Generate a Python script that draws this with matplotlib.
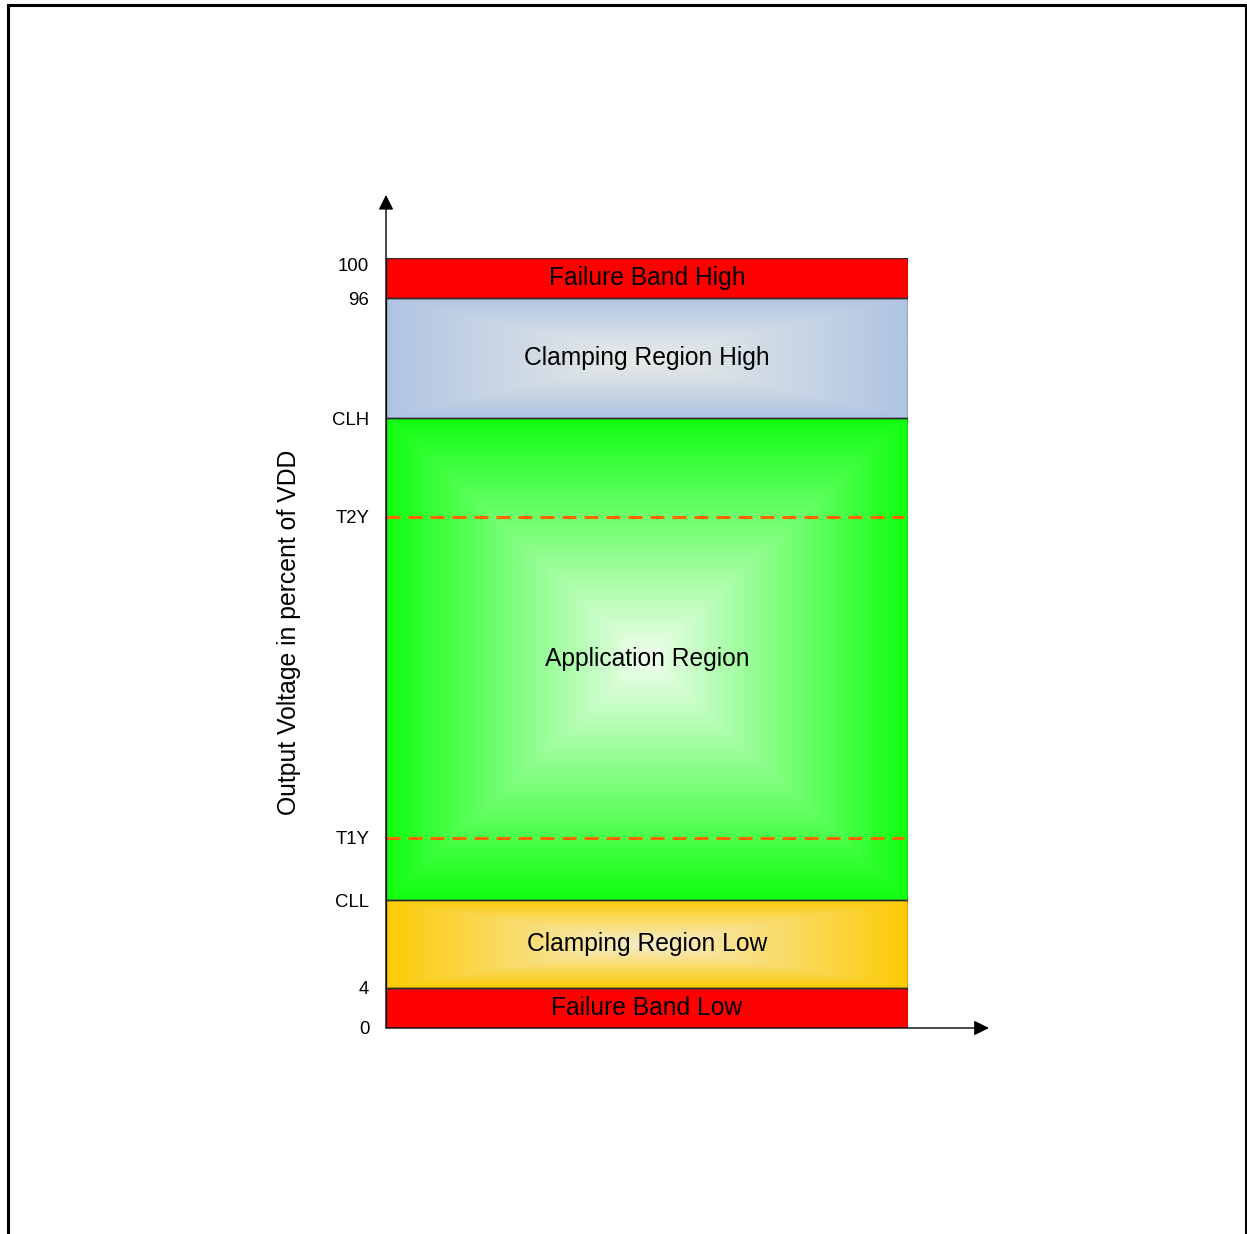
import matplotlib.pyplot as plt
import numpy as np
from matplotlib.lines import Line2D
from matplotlib.colors import to_rgb

# band boundaries on a schematic percent axis (bands are not to scale)
levels = [0, 5.2, 16.6, 24.7, 66.4, 79.2, 94.8, 100]
level_labels = ["0", "4", "CLL", "T1Y", "T2Y", "CLH", "96", "100"]

# bands, bottom to top
band_names = ["Failure Band Low", "Clamping Region Low", "Application Region",
              "Clamping Region High", "Failure Band High"]
band_lo = [0, 5.2, 16.6, 79.2, 94.8]
band_hi = [5.2, 16.6, 79.2, 94.8, 100]
band_edge = ["#ff0000", "#fdca00", "#10ff10", "#aec3e2", "#ff0000"]
band_centre = ["#ff0000", "#f6ecca", "#f2fdf0", "#e9ece8", "#ff0000"]
threshold_levels = [24.7, 66.4]

plt.rcParams['font.family'] = ['Liberation Sans Narrow', 'Liberation Sans', 'DejaVu Sans']

fig = plt.figure(figsize=(12.47, 12.34), dpi=100)
W, H = 1247, 1234
ax = fig.add_axes([386 / W, 1 - 1028 / H, (908 - 386) / W, (1028 - 258) / H])
ax.set_xlim(0, 1)
ax.set_ylim(0, 100)


def rect_gradient(edge, centre, nx=300, ny=200, power=1.0):
    """rectangular (box) gradient: light centre, edge colour at the border"""
    x = np.linspace(-1, 1, nx)
    y = np.linspace(-1, 1, ny)
    xx, yy = np.meshgrid(x, y)
    t = np.maximum(np.abs(xx), np.abs(yy))
    w = (1 - t) ** power
    e = np.array(to_rgb(edge))
    c = np.array(to_rgb(centre))
    return e + (c - e) * w[..., None]


for lo, hi, name, ec, cc in zip(band_lo, band_hi, band_names, band_edge, band_centre):
    if name.startswith("Application"):
        img = rect_gradient(ec, cc, 400, 400, power=1.0)
    else:
        img = rect_gradient(ec, cc, 400, 100, power=0.9)
    ax.imshow(img, extent=[0, 1, lo, hi], aspect='auto', interpolation='bilinear', zorder=1)
    ax.add_patch(plt.Rectangle((0, lo), 1, hi - lo, fill=False, ec="#2a2a2a", lw=1.0, zorder=3))
    ax.text(0.5, (lo + hi) / 2, name, ha='center', va='center', fontsize=17.7, color='black', zorder=4)

for lv in threshold_levels:
    ax.plot([0, 0.992], [lv, lv], color="#ff6600", lw=2.2, dashes=(4.6, 2.6), zorder=2)

ax.set_yticks(levels)
ax.set_yticklabels(level_labels, fontsize=13.4)
ax.tick_params(axis='y', length=0, pad=12)
ax.set_xticks([])
for s in ["top", "right", "bottom", "left"]:
    ax.spines[s].set_visible(False)

for lbl in ax.get_yticklabels():
    if lbl.get_text() == "100":
        lbl.set_va('top')
ax.set_ylabel("Output Voltage in percent of VDD", fontsize=17.8)
ax.yaxis.set_label_coords(-0.186, 0.514)
ax.yaxis.label.set_va('center')

# axis arrows
arrow = dict(arrowstyle="-|>,head_length=0.9,head_width=0.45", color="black", lw=1.0,
             shrinkA=0, shrinkB=0)
ax.annotate("", xy=(0, 108.2), xytext=(0, 0), annotation_clip=False, arrowprops=arrow, zorder=5)
ax.annotate("", xy=(1.155, 0), xytext=(0, 0), annotation_clip=False, arrowprops=arrow, zorder=5)

# frame around the picture
for xs, ys in [([7.5 / W, 7.5 / W], [0, 1 - 4.5 / H]),
               ([7.5 / W, 1245.5 / W], [1 - 4.5 / H, 1 - 4.5 / H]),
               ([1245.5 / W, 1245.5 / W], [0, 1 - 4.5 / H])]:
    fig.add_artist(Line2D(xs, ys, color='black', lw=2.2, transform=fig.transFigure))

fig.savefig("out.png", dpi=100)
